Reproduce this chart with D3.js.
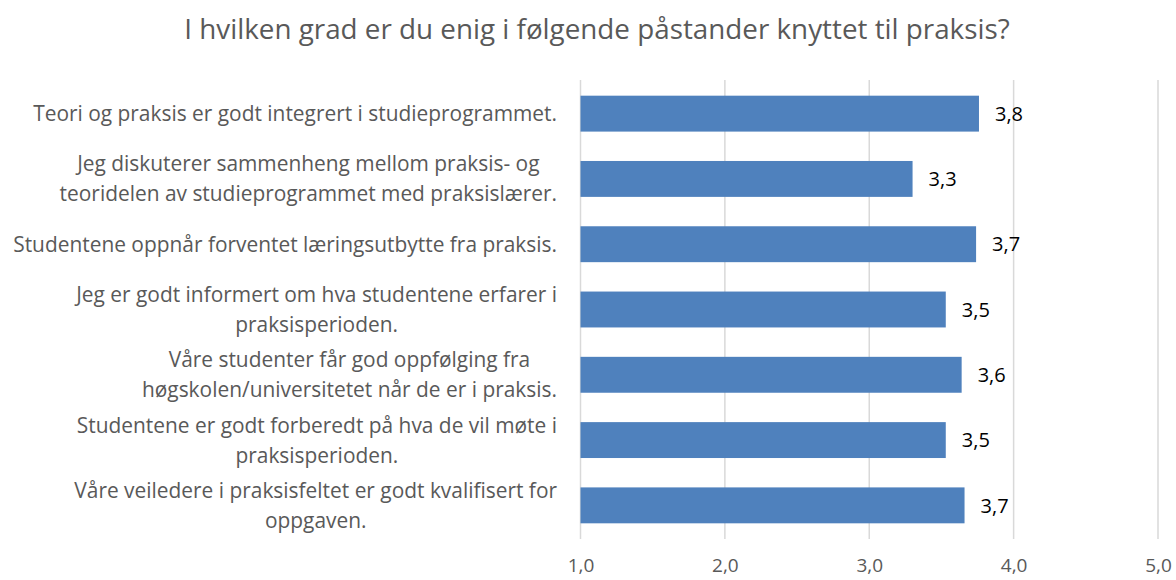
<!DOCTYPE html>
<html>
<head>
<meta charset="utf-8">
<script src="https://cdn.jsdelivr.net/npm/d3@7"></script>
<style>
  body { margin: 0; background: #fff; }
  text { font-family: "Open Sans", sans-serif; }
</style>
</head>
<body>
<div id="chart"></div>
<script>
/**
 * Chart data
 */
var title = "I hvilken grad er du enig i følgende påstander knyttet til praksis?";
var categories = [
  ["Teori og praksis er godt integrert i studieprogrammet."],
  ["Jeg diskuterer sammenheng mellom praksis- og", "teoridelen av studieprogrammet med praksislærer."],
  ["Studentene oppnår forventet læringsutbytte fra praksis."],
  ["Jeg er godt informert om hva studentene erfarer i", "praksisperioden."],
  ["Våre studenter får god oppfølging fra", "høgskolen/universitetet når de er i praksis."],
  ["Studentene er godt forberedt på hva de vil møte i", "praksisperioden."],
  ["Våre veiledere i praksisfeltet er godt kvalifisert for", "oppgaven."]
];
var values = [3.76, 3.30, 3.74, 3.53, 3.64, 3.53, 3.66];
var ticks = [1, 2, 3, 4, 5];

var width = 1176;
var height = 580;
var svg = d3.select("#chart").append("svg")
  .attr("width", width)
  .attr("height", height);

var x = d3.scaleLinear().domain([1, 5]).range([580.5, 1158]);
var y = d3.scaleBand()
  .domain(d3.range(categories.length))
  .range([81, 538])
  .paddingInner(0.45)
  .paddingOuter(0.225);

var fmt = function(v) { return d3.format(".1f")(v).replace(".", ","); };

// title
svg.append("text")
  .attr("x", 597)
  .attr("y", 39)
  .attr("text-anchor", "middle")
  .attr("fill", "#595959")
  .style("font-size", "27.8px")
  .text(title);

// gridlines
svg.append("g")
  .selectAll("line")
  .data(ticks)
  .enter().append("line")
  .attr("x1", d => x(d)).attr("x2", d => x(d))
  .attr("y1", 80).attr("y2", 539)
  .attr("stroke", "#d9d9d9")
  .attr("stroke-width", 1.5);

// x axis labels
var xAxis = d3.axisBottom(x).tickValues(ticks).tickSize(0).tickPadding(0).tickFormat(fmt);
var gx = svg.append("g").attr("transform", "translate(0,558)").call(xAxis);
gx.select(".domain").remove();
gx.selectAll("text")
  .attr("fill", "#595959")
  .style("font-size", "19px")
  .style("font-family", "'Open Sans', sans-serif");

// bars
svg.append("g")
  .selectAll("rect")
  .data(values)
  .enter().append("rect")
  .attr("x", x(1))
  .attr("y", (d, i) => y(i))
  .attr("width", d => x(d) - x(1))
  .attr("height", y.bandwidth())
  .attr("fill", "#4f81bd");

// value labels
svg.append("g")
  .selectAll("text")
  .data(values)
  .enter().append("text")
  .attr("x", d => x(d) + 16)
  .attr("y", (d, i) => y(i) + y.bandwidth() / 2)
  .attr("dy", "0.36em")
  .attr("fill", "#000")
  .style("font-size", "20px")
  .text(fmt);

// category labels, lines centred on each other, block right aligned
var labelRight = 557;
var lineGap = 30;
categories.forEach(function(lines, i) {
  var g = svg.append("g");
  var texts = g.selectAll("text")
    .data(lines)
    .enter().append("text")
    .attr("fill", "#595959")
    .style("font-size", "20.9px")
    .attr("dy", "0.36em")
    .attr("y", (d, j) => y(i) + y.bandwidth() / 2 + (j - (lines.length - 1) / 2) * lineGap)
    .text(d => d);
  var maxW = d3.max(texts.nodes(), n => n.getComputedTextLength());
  texts.attr("x", labelRight - maxW / 2).attr("text-anchor", "middle");
});
</script>
</body>
</html>
